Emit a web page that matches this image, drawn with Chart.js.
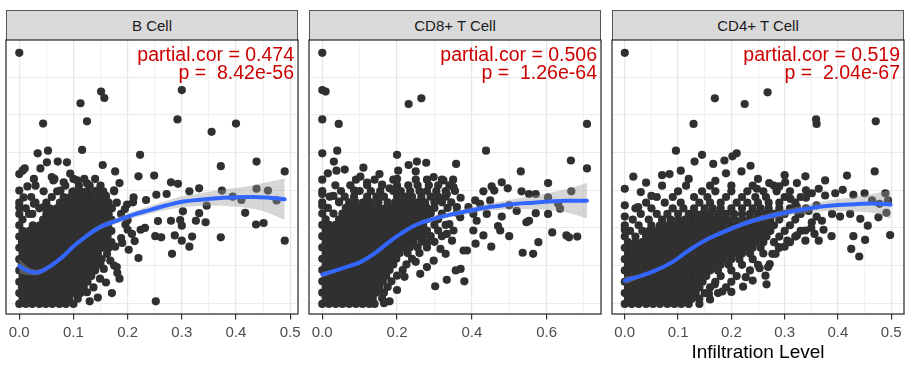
<!DOCTYPE html>
<html><head><meta charset="utf-8">
<script src="https://cdn.jsdelivr.net/npm/chart.js@4.4.1/dist/chart.umd.min.js"></script>
<style>
html,body{margin:0;padding:0;background:#fff;}
body{width:914px;height:372px;position:relative;overflow:hidden;font-family:"Liberation Sans",Arial,sans-serif;}
.strip{position:absolute;top:10px;height:30px;box-sizing:border-box;border:1px solid #555;border-bottom:none;background:#D9D9D9;color:#1a1a1a;font-size:15px;line-height:29px;text-align:center;}
.ann{position:absolute;top:45px;color:#CD0000;font-size:19.5px;line-height:18px;text-align:right;white-space:pre;}
.xtitle{position:absolute;top:342px;font-size:19px;line-height:19px;color:#000;text-align:center;}
canvas{position:absolute;}
</style></head>
<body>
<script>
// ---------- text ----------
const panelTitles = ['B Cell', 'CD8+ T Cell', 'CD4+ T Cell'];
const partialCor = ['0.474', '0.506', '0.519'];
const pValues = ['8.42e-56', '1.26e-64', '2.04e-67'];
const xAxisTitle = 'Infiltration Level';

// ---------- axes ----------
const bCellGrid = [0, 0.05, 0.1, 0.15, 0.2, 0.25, 0.3, 0.35, 0.4, 0.45, 0.5];
const bCellTickValues = [0, 0.1, 0.2, 0.3, 0.4, 0.5];
const bCellTickLabels = ['0.0', '0.1', '0.2', '0.3', '0.4', '0.5'];
const cd8Grid = [0, 0.1, 0.2, 0.3, 0.4, 0.5, 0.6, 0.7];
const cd8TickValues = [0, 0.2, 0.4, 0.6];
const cd8TickLabels = ['0.0', '0.2', '0.4', '0.6'];
const cd4Grid = [0, 0.05, 0.1, 0.15, 0.2, 0.25, 0.3, 0.35, 0.4, 0.45, 0.5];
const cd4TickValues = [0, 0.1, 0.2, 0.3, 0.4, 0.5];
const cd4TickLabels = ['0.0', '0.1', '0.2', '0.3', '0.4', '0.5'];
const yGrid = [1, 2, 3, 4, 5, 6, 7];
const xRanges = [[-0.0245, 0.5145], [-0.0355, 0.7455], [-0.024, 0.524]];
const yRange = [0.713, 7.99];

// ---------- B Cell ----------
const bCellRows = [
 [0.98, 0, .012, .024, .037, .049, .061, .074, .086],
 [1.12, .006, .018, .03, .043, .055, .067, .08, .092, .108],
 [1.27, 0, .012, .025, .037, .05, .062, .075, .087, .1, .113],
 [1.42, .005, .018, .031, .043, .056, .068, .081, .094, .106, .119],
 [1.57, 0, .012, .024, .037, .05, .063, .075, .088, .1, .113, .126],
 [1.72, .006, .019, .031, .044, .056, .069, .082, .094, .107, .12, .133],
 [1.87, 0, .013, .025, .038, .05, .063, .076, .088, .101, .114, .127, .14],
 [2.02, .005, .018, .03, .043, .056, .068, .081, .093, .106, .119, .131, .15],
 [2.17, 0, .012, .025, .037, .05, .062, .075, .088, .1, .113, .126, .138, .152],
 [2.32, .006, .019, .031, .044, .057, .069, .082, .094, .107, .12, .132, .145],
 [2.47, 0, .013, .025, .038, .05, .063, .076, .088, .101, .113, .126, .139, .152, .165],
 [2.62, .005, .018, .03, .043, .056, .068, .081, .094, .106, .119, .132, .144, .157, .17],
 [2.77, 0, .012, .025, .037, .05, .062, .075, .088, .1, .113, .125, .138, .151, .163],
 [2.92, .006, .019, .031, .044, .057, .069, .082, .095, .107, .12, .132, .145, .158, .17],
 [3.07, 0, .025, .038, .05, .063, .075, .088, .1, .113, .126, .138, .151, .164],
 [3.22, .006, .044, .057, .07, .082, .095, .107, .12, .133, .145, .158, .17],
 [3.37, 0, .018, .05, .063, .076, .088, .101, .113, .126, .139, .152, .165],
 [3.52, .012, .037, .056, .069, .082, .095, .107, .12, .133, .146, .158, .171],
 [3.67, 0, .03, .05, .075, .088, .1, .113, .126, .139, .152, .165, .18],
 [3.82, .022, .06, .082, .094, .107, .12, .132, .146, .16],
 [3.97, .045, .07, .1, .113, .125, .14, .155, .175],
 [4.12, .03, .085, .11, .13, .15],
 [4.3, .065, .1, .12, .14]
];
const bCellPoints = [
 [0,7.65],[.30,6.66],[.151,6.62],[.157,6.45],[.113,6.31],[.125,5.83],[.044,5.77],[.292,5.88],[.40,5.77],[.355,5.55],
 [.116,5.07],[.034,4.98],[.053,5.05],[.223,4.94],[.438,4.76],[.372,4.64],[.49,4.50],[0,4.43],[.006,4.52],[.154,4.67],
 [.177,4.50],[.249,4.39],[.22,4.37],[.185,4.19],[.28,4.21],[.293,4.17],[.332,4.05],[.314,3.97],[.374,3.99],[.438,4.04],
 [.459,3.99],[.475,3.73],[.394,3.83],[.41,3.74],[.253,3.88],[.272,3.90],[.234,3.74],[.21,3.68],[.302,3.44],[.332,3.39],
 [.346,3.59],[.417,3.40],[.326,3.19],[.344,3.15],[.28,3.19],[.297,3.21],[.30,3.06],[.437,3.09],[.451,3.13],[.256,3.18],
 [.232,3.00],[.224,2.95],[.372,2.75],[.49,2.66],[.251,2.78],[.262,2.75],[.287,2.80],[.30,2.66],[.319,2.77],[.314,2.50],
 [.213,2.65],[.282,2.31],[.220,2.20],[.202,2.42],[.181,1.80],[.171,1.27],[.252,1.05],
 [.211,3.81],[.199,3.62],[.188,3.37],[.196,3.09],[.208,2.84],[.188,2.73],[.177,2.50],[.168,2.13],[.156,1.91],[.149,1.65],
 [.137,1.42],[.125,1.29],[.143,2.04],[.162,2.31],[.180,1.96],
 [.01,4.58],[.071,4.76],[.088,4.74],[.039,4.58],[.051,4.74],[.082,4.21],[.094,4.44],[.027,4.30],[.063,4.26],[.076,3.99],
 [.107,4.26],[.125,4.18],[.144,3.99],[.131,3.86],[.098,3.95],[0,3.99],[.008,3.81],[0,3.55],[.027,3.64],[.024,3.37],[.045,3.55],
 [.145,1.15],[.13,1.05],[.1,0.98],[.16,1.55],[.175,2.0],[.19,2.6],[.2,3.2],[.195,3.5],[.175,4.0],[.06,4.35],[.015,4.1],
 [.16,3.85],[.2,2.95],[.185,1.65]
];
const bCellSmoothX = [0, .014, .026, .039, .057, .079, .1, .119, .149, .18, .211, .242, .272, .303, .334, .365, .395, .426, .457, .49];
const bCellSmoothY = [1.98, 1.87, 1.82, 1.84, 1.98, 2.22, 2.51, 2.73, 3.02, 3.19, 3.35, 3.48, 3.60, 3.70, 3.75, 3.79, 3.81, 3.82, 3.81, 3.76];
const bCellUpper = [2.18, 1.99, 1.90, 1.91, 2.04, 2.28, 2.57, 2.79, 3.09, 3.27, 3.44, 3.58, 3.72, 3.85, 3.92, 3.99, 4.05, 4.12, 4.21, 4.31];
const bCellLower = [1.78, 1.75, 1.74, 1.77, 1.92, 2.16, 2.45, 2.67, 2.95, 3.11, 3.26, 3.38, 3.48, 3.55, 3.58, 3.59, 3.57, 3.52, 3.41, 3.21];

// ---------- CD8+ T Cell ----------
const cd8Rows = [
 [0.98, 0, .018, .036, .054, .072, .09, .108, .126, .14],
 [1.13, .009, .027, .045, .063, .081, .099, .117, .135, .16],
 [1.28, 0, .018, .036, .054, .072, .09, .108, .126, .144, .165],
 [1.43, .009, .027, .045, .063, .081, .099, .117, .135, .153, .175],
 [1.58, 0, .018, .036, .054, .072, .09, .108, .126, .144, .162, .185],
 [1.73, .009, .027, .045, .063, .081, .099, .117, .135, .153, .171, .2],
 [1.88, 0, .018, .036, .054, .072, .09, .108, .126, .144, .162, .18, .215],
 [2.03, .009, .027, .045, .063, .081, .099, .117, .135, .153, .171, .19, .225],
 [2.18, 0, .018, .036, .054, .072, .09, .108, .126, .144, .162, .18, .198, .24],
 [2.33, .009, .027, .045, .063, .081, .099, .117, .135, .153, .171, .189, .207, .228, .26],
 [2.48, 0, .018, .036, .054, .072, .09, .108, .126, .144, .162, .18, .198, .216, .234, .255, .28],
 [2.63, .009, .027, .045, .063, .081, .099, .117, .135, .153, .171, .189, .207, .225, .243, .265, .3],
 [2.78, 0, .018, .036, .054, .072, .09, .108, .126, .144, .162, .18, .198, .216, .234, .252, .27, .29, .32],
 [2.93, .009, .027, .045, .063, .081, .099, .117, .135, .153, .171, .189, .207, .225, .243, .261, .28, .31],
 [3.08, 0, .018, .036, .054, .072, .09, .108, .126, .144, .162, .18, .198, .216, .234, .252, .27, .3, .33],
 [3.23, .009, .045, .063, .081, .099, .117, .135, .153, .171, .189, .207, .225, .243, .261, .28, .31],
 [3.38, 0, .03, .054, .072, .09, .108, .126, .144, .162, .18, .198, .216, .234, .252, .27, .29, .32],
 [3.53, .015, .063, .081, .099, .117, .135, .153, .171, .189, .207, .225, .243, .261, .28, .3, .335],
 [3.68, 0, .045, .072, .09, .11, .13, .15, .175, .195, .215, .235, .255, .275, .3, .32, .345],
 [3.83, .02, .06, .085, .12, .145, .165, .2, .22, .24, .265, .29, .31, .33],
 [3.98, 0, .05, .1, .13, .155, .19, .21, .235, .26, .28, .305, .33, .355],
 [4.13, .035, .075, .12, .16, .2, .23, .255, .285, .31, .34],
 [4.28, 0, .09, .14, .19, .25, .28, .32, .35]
];
const cd8Points = [
 [0,7.65],[0,6.66],[.009,6.62],[.231,6.29],[.265,6.44],[0,5.88],[.044,5.76],[.708,5.76],[0,4.98],[.04,5.05],
 [.438,5.05],[.2,4.94],[.031,4.76],[.038,4.52],[.665,4.79],[.708,4.58],[.231,4.67],[.253,4.76],[.278,4.73],[.358,4.70],
 [.203,4.52],[.153,4.43],[.102,4.36],[.531,4.50],[.48,4.21],[.604,4.19],[.453,4.10],[.431,3.97],[.46,3.99],[.496,4.05],
 [.533,3.97],[.553,3.90],[.571,3.90],[.666,3.97],[.604,3.81],[.631,3.64],[.636,3.51],[.571,3.39],[.553,3.19],[.546,3.15],
 [.604,3.37],[.615,2.88],[.653,2.80],[.66,2.75],[.682,2.77],[.578,2.62],[.536,2.34],[.564,2.31],[.476,2.93],[.431,2.80],
 [.452,2.50],[.41,2.58],[.387,2.40],[.378,2.40],[.37,1.91],[.38,1.58],[.333,1.62],[.357,1.87],[.33,2.31],[.302,1.45],
 [.404,2.93],[.413,3.19],[.404,3.37],[.391,3.55],[.422,3.64],[.44,3.37],[.449,3.73],[.409,3.73],[.36,3.55],[.369,3.28],
 [.351,2.93],[.347,2.66],[.333,2.84],[.316,2.44],[.298,2.13],[.28,1.96],[.262,1.78],[.333,3.90],[.351,4.08],[.324,4.26],
 [.298,4.35],[.5,3.6],[.52,3.45],[.48,3.30],[.47,3.05],[.5,2.78],
 [0,3.9],[0,3.59],[.03,3.85],[.045,3.7],[.085,4.0],[.12,4.2],[.16,4.15],[.2,4.3],[.18,4.05],
 [.18,1.05],[.2,1.35],[.22,1.7],[.25,2.1],[.28,2.6],[.34,3.1],[.36,3.4],[.37,3.8],[.015,4.45],[.06,4.55],[.11,4.6],
 [.25,4.5],[.165,1.0]
];
const cd8SmoothX = [0, .031, .076, .102, .138, .173, .209, .253, .298, .342, .387, .431, .476, .52, .564, .609, .653, .708];
const cd8SmoothY = [1.76, 1.85, 2.0, 2.09, 2.31, 2.58, 2.84, 3.09, 3.24, 3.35, 3.44, 3.53, 3.59, 3.64, 3.67, 3.70, 3.72, 3.72];
const cd8Upper = [1.84, 1.90, 2.04, 2.13, 2.35, 2.62, 2.88, 3.14, 3.30, 3.42, 3.52, 3.62, 3.70, 3.78, 3.85, 3.93, 4.03, 4.19];
const cd8Lower = [1.68, 1.80, 1.96, 2.05, 2.27, 2.54, 2.80, 3.04, 3.18, 3.28, 3.36, 3.44, 3.48, 3.50, 3.49, 3.47, 3.41, 3.25];

// ---------- CD4+ T Cell ----------
const cd4Rows = [
 [0.98, 0, .013, .026, .04, .053, .066, .08, .093, .106, .12],
 [1.12, .006, .02, .033, .046, .06, .073, .086, .1, .113, .126, .14],
 [1.27, 0, .013, .026, .04, .053, .066, .08, .093, .106, .12, .133, .15, .175],
 [1.42, .006, .02, .033, .046, .06, .073, .086, .1, .113, .126, .14, .16, .19],
 [1.57, 0, .013, .026, .04, .053, .066, .08, .093, .106, .12, .133, .146, .17, .2],
 [1.72, .006, .02, .033, .046, .06, .073, .086, .1, .113, .126, .14, .153, .18, .21],
 [1.87, 0, .013, .026, .04, .053, .066, .08, .093, .106, .12, .133, .146, .16, .175, .2, .235],
 [2.02, .006, .02, .033, .046, .06, .073, .086, .1, .113, .126, .14, .153, .166, .18, .195, .22, .25],
 [2.17, 0, .013, .026, .04, .053, .066, .08, .093, .106, .12, .133, .146, .16, .173, .186, .2, .215, .24],
 [2.32, .006, .02, .033, .046, .06, .073, .086, .1, .113, .126, .14, .153, .166, .18, .193, .206, .22, .235, .26],
 [2.47, 0, .013, .026, .04, .053, .066, .08, .093, .106, .12, .133, .146, .16, .173, .186, .2, .213, .226, .24, .255, .29],
 [2.62, .006, .02, .033, .046, .06, .073, .086, .1, .113, .126, .14, .153, .166, .18, .193, .206, .22, .233, .246, .26, .28, .31],
 [2.77, 0, .02, .04, .053, .066, .08, .093, .106, .12, .133, .146, .16, .173, .186, .2, .213, .226, .24, .253, .266, .29, .32],
 [2.92, .01, .033, .046, .06, .073, .086, .1, .113, .126, .14, .153, .166, .18, .193, .206, .22, .233, .246, .26, .273, .3, .33],
 [3.07, 0, .026, .05, .066, .08, .093, .106, .12, .133, .146, .16, .173, .186, .2, .213, .226, .24, .253, .266, .28, .31],
 [3.22, .015, .045, .07, .086, .1, .113, .126, .14, .153, .166, .18, .193, .206, .22, .233, .246, .26, .273, .29, .32],
 [3.37, .03, .06, .08, .1, .12, .133, .146, .16, .175, .19, .205, .22, .235, .25, .265, .28, .3, .33],
 [3.52, .02, .05, .09, .11, .13, .15, .165, .18, .2, .22, .24, .255, .27, .29, .31, .34],
 [3.67, .04, .075, .105, .14, .16, .18, .21, .23, .25, .27, .29, .32],
 [3.82, .06, .09, .13, .155, .19, .22, .245, .265, .3, .33],
 [3.97, .1, .145, .17, .2, .23, .26, .285, .31],
 [4.12, .07, .115, .16, .2, .24, .28]
];
const cd4Points = [
 [0,7.65],[.268,6.60],[.169,6.44],[.225,6.29],[.359,5.88],[.36,5.76],[.471,5.83],[.129,5.76],[.096,5.05],[.21,4.98],
 [.145,4.94],[.131,4.76],[.166,4.70],[.187,4.79],[.236,4.65],[.219,4.50],[.202,4.90],[.105,4.52],[.084,4.43],[.469,4.50],
 [.417,4.39],[.016,4.36],[0,4.04],[.339,4.37],[.323,4.19],[.301,4.21],[.271,4.19],[.248,4.04],[.376,4.26],[.364,4.04],
 [.351,3.92],[.376,3.86],[.395,3.92],[.409,4.01],[.429,3.88],[.45,3.92],[.464,3.73],[.478,3.64],[.494,3.73],[.489,3.92],
 [.491,3.40],[.476,3.28],[.456,3.06],[.442,3.24],[.423,3.37],[.404,3.30],[.389,3.37],[.37,3.19],[.351,3.15],[.339,2.93],
 [.356,2.84],[.373,2.95],[.388,2.78],[.364,2.66],[.339,2.66],[.323,2.80],[.305,2.66],[.289,2.49],[.283,2.31],[.429,2.78],
 [.451,2.68],[.425,2.44],[.44,2.24],[.498,2.81],[.323,3.55],[.311,3.77],[.326,3.37],[.345,3.45],[.36,3.6],[.34,3.8],
 [.277,2.31],[.272,2.04],[.269,1.96],[.253,1.93],[.264,1.73],[.266,1.50],[.227,1.69],[.222,1.44],[.183,1.31],[.169,1.50],
 [.158,1.25],[0,3.3],[0,3.6],[.025,3.55],[.05,3.85],[.03,3.95],[.12,4.3],[.17,4.25],[.25,4.3],[.29,4.1],
 [.14,0.98],[.16,1.1],[.2,1.3],[.24,1.6],[.3,2.5],[.35,3.0],[.36,3.3],[.34,4.0],[.07,4.4],[.04,4.2],[.19,4.45],
 [.3,4.4],[0,2.95]
];
const cd4SmoothX = [0, .027, .058, .089, .12, .152, .183, .214, .245, .277, .308, .339, .37, .401, .433, .464, .499];
const cd4SmoothY = [1.60, 1.71, 1.87, 2.09, 2.40, 2.68, 2.88, 3.06, 3.21, 3.33, 3.42, 3.50, 3.57, 3.61, 3.63, 3.65, 3.62];
const cd4Upper = [1.70, 1.77, 1.92, 2.14, 2.45, 2.73, 2.94, 3.12, 3.28, 3.41, 3.51, 3.61, 3.70, 3.77, 3.83, 3.90, 4.00];
const cd4Lower = [1.50, 1.65, 1.82, 2.04, 2.35, 2.63, 2.82, 3.00, 3.14, 3.25, 3.33, 3.39, 3.44, 3.45, 3.43, 3.40, 3.24];

// ---------- layout ----------
const panelLefts = [6, 309, 612];
const panelWidth = 292;
const panelTop = 40, panelHeight = 274, pad = 20, axisH = 40;

const panels = [
 {rows: bCellRows, pts: bCellPoints, sx: bCellSmoothX, sy: bCellSmoothY, up: bCellUpper, lo: bCellLower, grid: bCellGrid, tv: bCellTickValues, tl: bCellTickLabels},
 {rows: cd8Rows, pts: cd8Points, sx: cd8SmoothX, sy: cd8SmoothY, up: cd8Upper, lo: cd8Lower, grid: cd8Grid, tv: cd8TickValues, tl: cd8TickLabels},
 {rows: cd4Rows, pts: cd4Points, sx: cd4SmoothX, sy: cd4SmoothY, up: cd4Upper, lo: cd4Lower, grid: cd4Grid, tv: cd4TickValues, tl: cd4TickLabels}
];

const borderPlugin = {
  id: 'panelBorder',
  afterDraw(chart) {
    const {ctx, chartArea: a} = chart;
    ctx.save();
    ctx.strokeStyle = '#333333';
    ctx.lineWidth = 1.3;
    ctx.strokeRect(a.left, a.top, a.right - a.left, a.bottom - a.top);
    ctx.restore();
  }
};

function el(tag, cls, style, text) {
  const e = document.createElement(tag);
  if (cls) e.className = cls;
  Object.assign(e.style, style);
  if (text !== undefined) e.textContent = text;
  document.body.appendChild(e);
  return e;
}

panels.forEach((p, i) => {
  const left = panelLefts[i];
  el('div', 'strip', {left: left + 'px', width: panelWidth + 'px'}, panelTitles[i]);

  const cv = document.createElement('canvas');
  cv.width = panelWidth + 2 * pad;
  cv.height = panelHeight + 10 + axisH;
  cv.style.left = (left - pad) + 'px';
  cv.style.top = (panelTop - 10) + 'px';
  document.body.appendChild(cv);

  const scatter = [];
  p.rows.forEach(r => { for (let k = 1; k < r.length; k++) scatter.push({x: r[k], y: r[0]}); });
  p.pts.forEach(q => scatter.push({x: q[0], y: q[1]}));
  const line = p.sx.map((x, k) => ({x, y: p.sy[k]}));
  const upper = p.sx.map((x, k) => ({x, y: p.up[k]}));
  const lower = p.sx.map((x, k) => ({x, y: p.lo[k]}));
  const isMajor = v => p.tv.some(t => Math.abs(t - v) < 1e-9);

  new Chart(cv, {
    type: 'scatter',
    data: {
      datasets: [
        {type: 'scatter', data: scatter, pointRadius: 4.1, pointBackgroundColor: '#303030', pointBorderWidth: 0, order: 3},
        {type: 'line', data: upper, borderColor: 'rgba(0,0,0,0)', borderWidth: 0, pointRadius: 0, tension: 0.4, fill: '+1', backgroundColor: 'rgba(153,153,153,0.4)', order: 2},
        {type: 'line', data: lower, borderColor: 'rgba(0,0,0,0)', borderWidth: 0, pointRadius: 0, tension: 0.4, fill: false, order: 2},
        {type: 'line', data: line, borderColor: '#3366FF', borderWidth: 4, pointRadius: 0, tension: 0.4, fill: false, order: 1, borderCapStyle: 'round'}
      ]
    },
    options: {
      responsive: false, animation: false, events: [],
      layout: {padding: {left: pad, right: pad, top: 10, bottom: 0}},
      plugins: {legend: {display: false}, tooltip: {enabled: false}},
      scales: {
        x: {
          type: 'linear', min: xRanges[i][0], max: xRanges[i][1],
          afterBuildTicks: s => { s.ticks = p.grid.map(v => ({value: v})); },
          afterFit: s => { s.height = axisH; },
          border: {display: false},
          grid: {
            color: c => isMajor(c.tick.value) ? '#E6E6E6' : '#F1F1F1',
            lineWidth: c => isMajor(c.tick.value) ? 1.2 : 1,
            tickLength: 5.5, tickWidth: 1.2,
            tickColor: c => isMajor(c.tick.value) ? '#333333' : 'rgba(0,0,0,0)'
          },
          ticks: {
            autoSkip: false, maxRotation: 0, padding: 4, color: '#4D4D4D',
            font: {family: 'Liberation Sans', size: 15},
            callback: v => { const k = p.tv.findIndex(t => Math.abs(t - v) < 1e-9); return k >= 0 ? p.tl[k] : ''; }
          }
        },
        y: {
          type: 'linear', min: yRange[0], max: yRange[1],
          afterBuildTicks: s => { s.ticks = yGrid.map(v => ({value: v})); },
          afterFit: s => { s.width = 0; },
          border: {display: false},
          grid: {color: '#EBEBEB', lineWidth: 1.1, drawTicks: false},
          ticks: {display: false}
        }
      }
    },
    plugins: [borderPlugin]
  });

  el('div', 'ann', {left: left + 'px', width: (panelWidth - 4) + 'px'},
     'partial.cor = ' + partialCor[i] + '\np =  ' + pValues[i]);
});

el('div', 'xtitle', {left: panelLefts[2] + 'px', width: panelWidth + 'px'}, xAxisTitle);
</script>
</body></html>
